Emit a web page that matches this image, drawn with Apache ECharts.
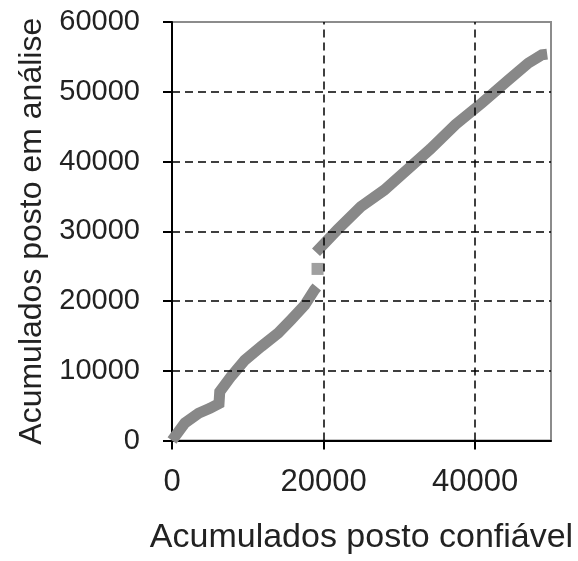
<!DOCTYPE html>
<html>
<head>
<meta charset="utf-8">
<script src="https://cdn.jsdelivr.net/npm/echarts@6/dist/echarts.min.js"></script>
<style>html,body{margin:0;padding:0;background:#fff;}#c{width:578px;height:561px;}</style>
</head>
<body>
<div id="c"></div>
<script>
// Lower segment (before the break)
const lowerX = [0, 1700, 3500, 5000, 6200, 6300, 7800, 9600, 11800, 14000, 15700, 17500, 18800, 19100];
const lowerY = [0, 2500, 3900, 4600, 5300, 7000, 9200, 11500, 13500, 15400, 17300, 19400, 21600, 22000];
// Isolated point in the gap
const gapX = [19200];
const gapY = [24600];
// Upper segment (after the break)
const upperX = [19000, 21800, 24900, 28000, 31000, 34100, 37400, 40900, 44400, 47000, 48800, 49500];
const upperY = [27000, 30200, 33500, 35900, 38800, 41800, 45300, 48400, 51700, 54100, 55300, 55400];
// Ticks / grid
const xTickVals = [0, 20000, 40000];
const xGrid = [20000, 40000];
const yGrid = [10000, 20000, 30000, 40000, 50000];

const lineData = [];
lowerX.forEach((x, i) => lineData.push([x, lowerY[i]]));
lineData.push(['-', '-']);
upperX.forEach((x, i) => lineData.push([x, upperY[i]]));

const gridMarks = [];
xGrid.forEach(v => gridMarks.push({xAxis: v}));
yGrid.forEach(v => gridMarks.push({yAxis: v}));

const font = '"Liberation Sans", Arial, sans-serif';
const chart = echarts.init(document.getElementById('c'), null, {renderer: 'canvas'});
chart.setOption({
  animation: false,
  backgroundColor: '#fff',
  grid: {left: 172, right: 27, top: 22, bottom: 120.5, show: true, borderColor: '#8c8c8c', borderWidth: 2, backgroundColor: 'transparent'},
  xAxis: {
    type: 'value', min: 0, max: 50000, interval: 20000,
    name: 'Acumulados posto confiável', nameLocation: 'middle', nameGap: 80,
    nameTextStyle: {fontFamily: font, fontSize: 34, color: '#222'},
    axisLine: {show: true, onZero: false, lineStyle: {color: '#000', width: 2}},
    axisTick: {show: true, inside: false, length: 9, lineStyle: {color: '#000', width: 2}},
    axisLabel: {fontFamily: font, fontSize: 31, color: '#222', margin: 26, showMaxLabel: false,
      formatter: v => (xTickVals.indexOf(v) >= 0 ? String(v) : '')},
    splitLine: {show: false}
  },
  yAxis: {
    type: 'value', min: 0, max: 60000, interval: 10000,
    name: 'Acumulados posto em análise', nameLocation: 'middle', nameGap: 118,
    nameTextStyle: {fontFamily: font, fontSize: 32, color: '#222'},
    axisLine: {show: true, onZero: false, lineStyle: {color: '#000', width: 2}},
    axisTick: {show: true, inside: false, length: 9, lineStyle: {color: '#000', width: 2}},
    axisLabel: {fontFamily: font, fontSize: 29, color: '#222', margin: 32, formatter: v => String(v)},
    splitLine: {show: false}
  },
  series: [
    {
      type: 'line', data: [], z: 1, silent: true,
      markLine: {
        silent: true, symbol: 'none', label: {show: false},
        lineStyle: {color: '#000', type: [8, 5], width: 1.5},
        data: gridMarks
      }
    },
    {
      type: 'line', data: lineData, z: 3, showSymbol: false, connectNulls: false,
      lineStyle: {color: '#888', width: 11, cap: 'butt', join: 'miter'}
    },
    {
      type: 'scatter', data: gapX.map((x, i) => [x, gapY[i]]), z: 3,
      symbol: 'rect', symbolSize: 12, itemStyle: {color: '#888'}
    }
  ]
});
</script>
</body>
</html>
